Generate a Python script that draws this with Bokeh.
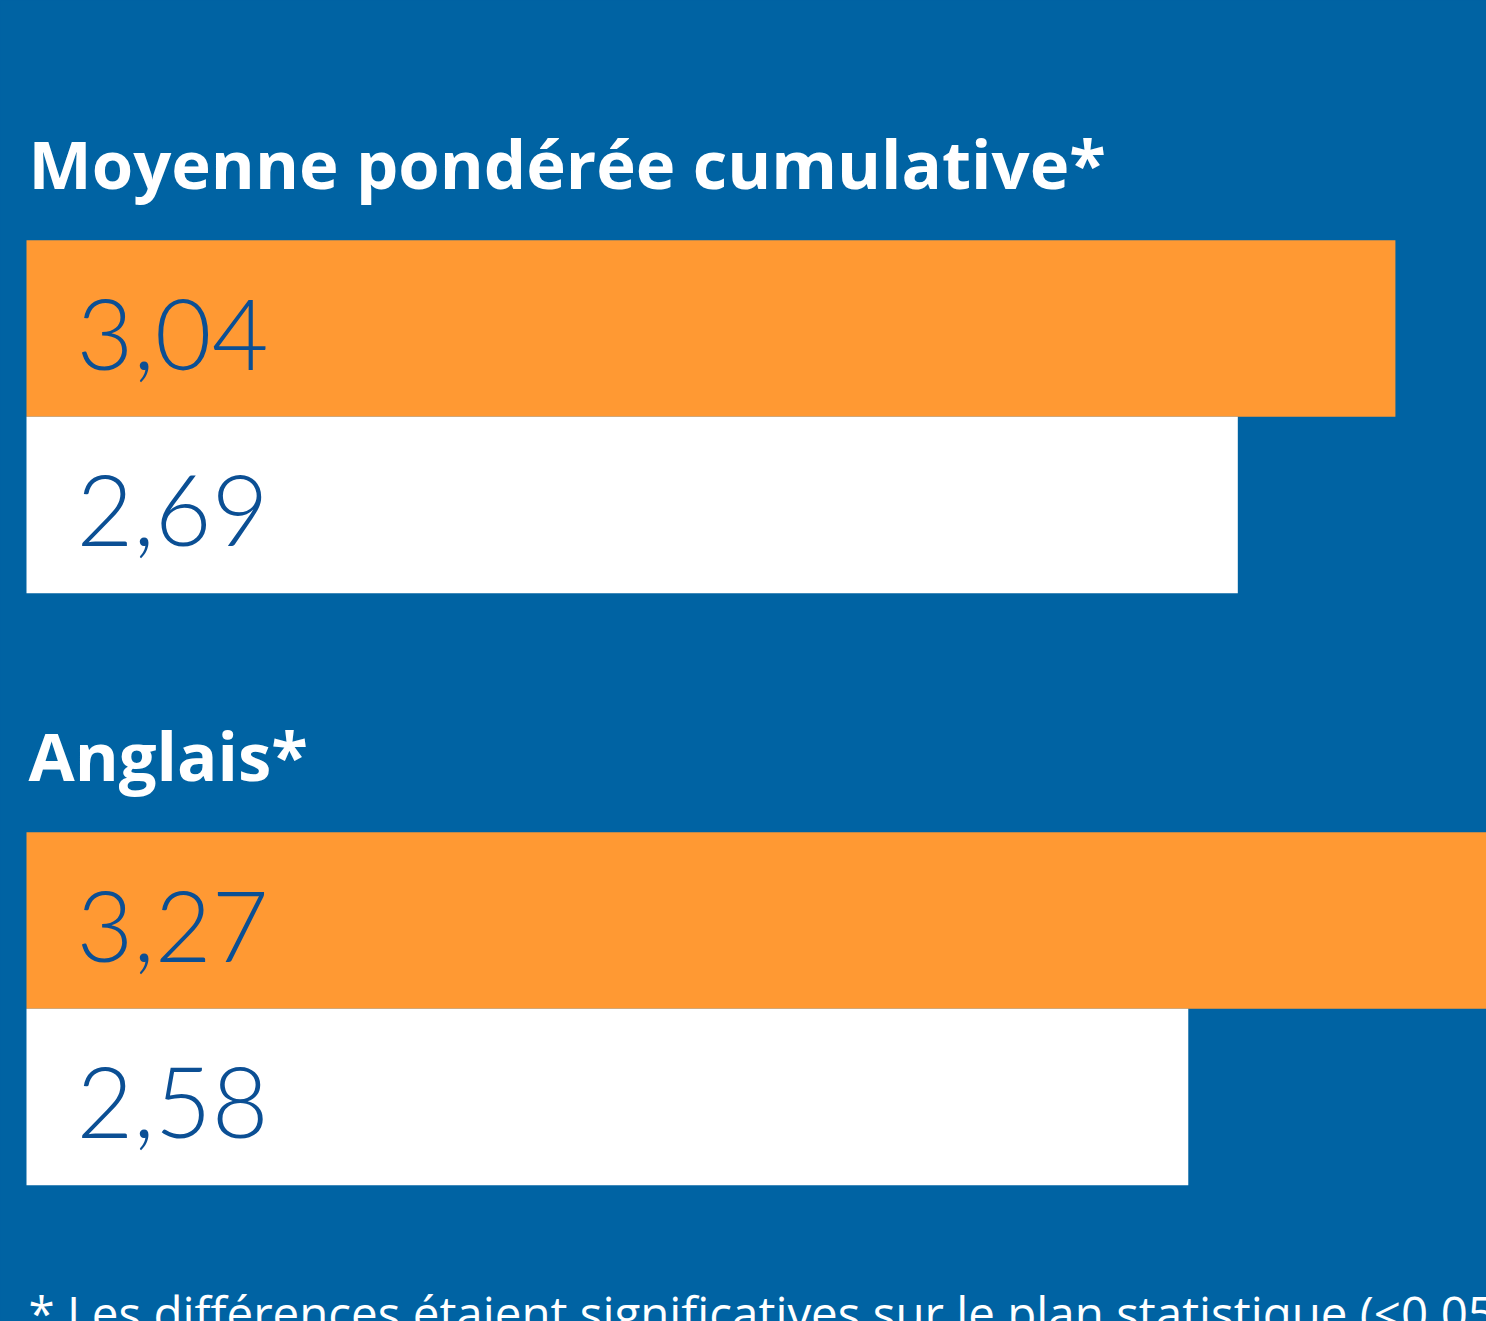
from bokeh.plotting import figure
from bokeh.models import Range1d
from bokeh.core.properties import value
from bokeh.embed import file_html
from bokeh.resources import INLINE

# ---- data ----
categories = ["Moyenne pondérée cumulative*", "Anglais*"]
values_orange = [3.04, 3.27]
values_white = [2.69, 2.58]
labels_orange = ["3,04", "3,27"]
labels_white = ["2,69", "2,58"]
footnote = "* Les différences étaient significatives sur le plan statistique (<0.05)."

# ---- layout (row units: one bar = 1) ----
W, H = 1486, 1321
PX_PER_UNIT = 450.3
X0_PX = 26
GROUP_STEP = 592 / 176.5
Y_TOP = -328 / 176.5
Y_BOT = (H - 328) / 176.5

BG = "#0063A3"
ORANGE = "#FF9933"
WHITE = "#FFFFFF"
NUM = "#0B4F94"

p = figure(width=W, height=H, output_backend="svg", toolbar_location=None,
           x_range=Range1d(-X0_PX / PX_PER_UNIT, (W - X0_PX) / PX_PER_UNIT),
           y_range=Range1d(Y_BOT, Y_TOP), min_border=0)
p.background_fill_color = BG
p.border_fill_color = BG
p.outline_line_color = None
p.axis.visible = False
p.grid.visible = False

y_orange = [g * GROUP_STEP for g in range(len(categories))]
y_white = [g * GROUP_STEP + 1 for g in range(len(categories))]

p.hbar(y=y_orange, left=0, right=values_orange, height=1.0, fill_color=ORANGE, line_color=None)
p.hbar(y=y_white, left=0, right=values_white, height=1.0, fill_color=WHITE, line_color=None)

num_font = value("Lato Light, Lato, Open Sans")
for ys, labs in ((y_orange, labels_orange), (y_white, labels_white)):
    p.text(x=[0] * 2, y=[y + 0.25 for y in ys], text=labs, x_offset=50, y_offset=-38,
           text_font=num_font, text_font_size="98px", text_color=NUM,
           text_baseline="alphabetic", text_align="left")

p.text(x=[0] * 2, y=[y - 0.765 for y in y_orange], text=categories, x_offset=2, y_offset=-30,
       text_font=value("Open Sans"), text_font_style="bold",
       text_font_size="67px", text_color=WHITE, text_baseline="alphabetic", text_align="left")

p.text(x=[0], y=[(1330 - 328) / 176.5], text=[footnote], x_offset=2, y_offset=-18,
       text_font=value("Open Sans"), text_font_size="47.5px", text_color=WHITE,
       text_baseline="alphabetic", text_align="left")

html = file_html(p, INLINE)
html = html.replace("</head>", "<style>html,body{margin:0;padding:0;background:%s;overflow:hidden;}</style></head>" % BG, 1)
open("out.html", "w").write(html)
